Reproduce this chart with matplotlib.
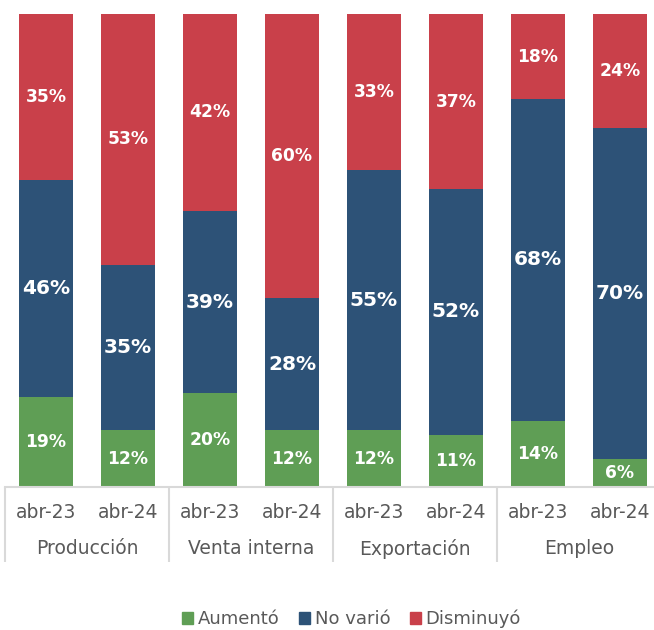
import numpy as np
import matplotlib
matplotlib.use('Agg')
import matplotlib.pyplot as plt
from matplotlib.transforms import blended_transform_factory
from matplotlib.patches import Patch

# data
groups = ['Producción', 'Venta interna', 'Exportación', 'Empleo']
periods = ['abr-23', 'abr-24']
aumento = [19, 12, 20, 12, 12, 11, 14, 6]
no_vario = [46, 35, 39, 28, 55, 52, 68, 70]
disminuyo = [35, 53, 42, 60, 33, 37, 18, 24]

c_green = '#5F9E55'
c_blue = '#2D5277'
c_red = '#C9404A'
c_text = '#595959'
c_line = '#D9D9D9'

fig = plt.figure(figsize=(6.54, 6.30), dpi=100)
ax = fig.add_axes([5 / 654, 143 / 630, 656 / 654, 473 / 630])

a = np.array(aumento, float)
n = np.array(no_vario, float)
d = np.array(disminuyo, float)
tot = a + n + d
# 100% stacked
a_p = a / tot * 100
n_p = n / tot * 100
d_p = d / tot * 100

x = np.arange(len(aumento))
w = 0.66
ax.bar(x, a_p, w, color=c_green, label='Aumentó')
ax.bar(x, n_p, w, bottom=a_p, color=c_blue, label='No varió')
ax.bar(x, d_p, w, bottom=a_p + n_p, color=c_red, label='Disminuyó')

for i in range(len(x)):
    ax.text(x[i], a_p[i] / 2, '%d%%' % aumento[i], ha='center', va='center',
            color='white', fontsize=12.3, fontweight='bold')
    ax.text(x[i], a_p[i] + n_p[i] / 2, '%d%%' % no_vario[i], ha='center', va='center',
            color='white', fontsize=14.5, fontweight='bold')
    ax.text(x[i], a_p[i] + n_p[i] + d_p[i] / 2, '%d%%' % disminuyo[i], ha='center', va='center',
            color='white', fontsize=12.3, fontweight='bold')

ax.set_xlim(-0.5, len(x) - 0.5)
ax.set_ylim(0, 100)
ax.set_xticks([])
ax.set_yticks([])
for s in ['top', 'right', 'left']:
    ax.spines[s].set_visible(False)
ax.spines['bottom'].set_color(c_line)
ax.spines['bottom'].set_linewidth(1.5)

trans = blended_transform_factory(ax.transData, fig.transFigure)
for i in range(len(x)):
    ax.text(x[i], 1 - 512 / 630, periods[i % 2], transform=trans, ha='center', va='center',
            color=c_text, fontsize=13.5)
for j, g in enumerate(groups):
    ax.text(2 * j + 0.5, 1 - 549 / 630, g, transform=trans, ha='center', va='center',
            color=c_text, fontsize=13.5)
for j in range(len(groups)):
    ax.plot([2 * j - 0.5, 2 * j - 0.5], [1 - 487 / 630, 1 - 562 / 630], transform=trans,
            color=c_line, lw=1.5, clip_on=False, solid_capstyle='butt')

handles = [Patch(color=c_green), Patch(color=c_blue), Patch(color=c_red)]
leg = fig.legend(handles, ['Aumentó', 'No varió', 'Disminuyó'], loc='center',
                 bbox_to_anchor=(0.5375, 1 - 619 / 630), ncol=3, frameon=False,
                 fontsize=13, handlelength=0.6, handleheight=0.6, handletextpad=0.25,
                 columnspacing=1.1, labelcolor=c_text)

fig.savefig('out.png', dpi=100)
